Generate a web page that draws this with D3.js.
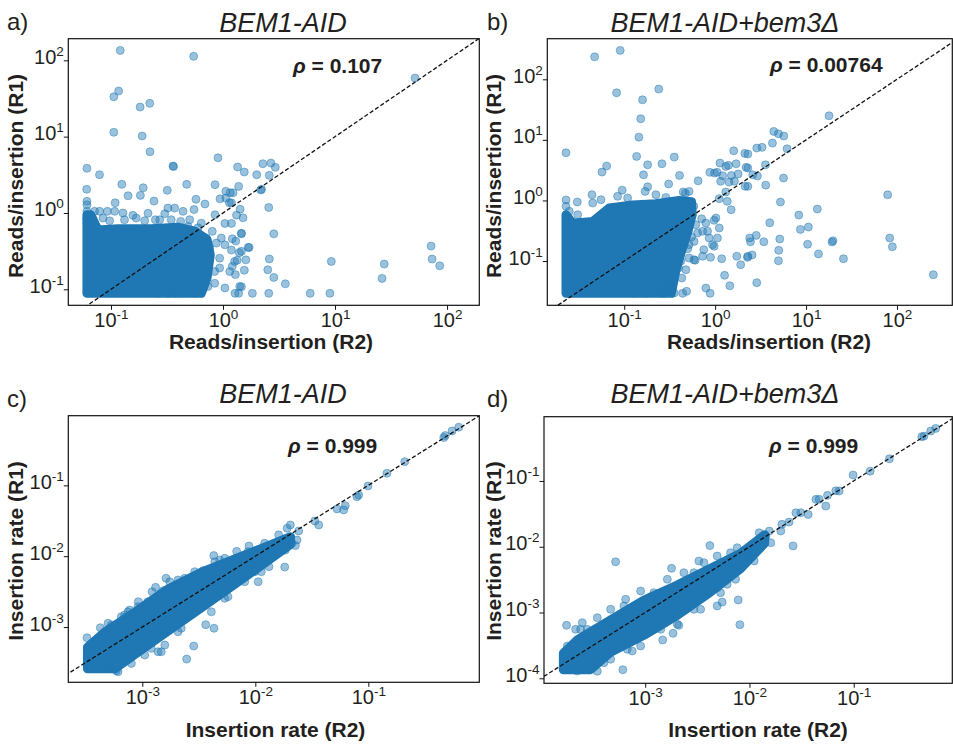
<!DOCTYPE html>
<html>
<head>
<meta charset="utf-8">
<script src="https://cdn.jsdelivr.net/npm/d3@7"></script>
<style>
  body { margin: 0; background: #fff; }
  svg { display: block; }
  text { font-family: "Liberation Sans", Arial, Helvetica, sans-serif; fill: #231f20; }
</style>
</head>
<body>
<svg id="fig" width="953" height="746"></svg>
<script>
// ---------- Reads per insertion, replicate R2 (x) vs R1 (y) ----------
// Individual genes outside the dense cloud
const pointsA = [
  [0.121,135],[0.547,113],[0.117,39.6],[0.106,33.3],[0.182,24.4],[0.222,27.3],[0.106,11.4],[0.190,10.2],
  [0.223,6.34],[0.902,5.28],[0.358,4.12],[0.362,4.05],[0.061,3.85],[0.079,3.17],[1.35,4.0],[1.55,3.44],
  [2.27,4.42],[2.68,4.5],[2.59,3.11],[2.0,3.17],[2.93,3.96],[51.8,58.6],[72,0.368],[73.5,0.249],[86,0.203],
  [9.27,0.232],[27.5,0.214],[26.3,0.139],[3.6,0.118],[6.0,0.0885],[9.0,0.0885],[2.84,0.533],[2.84,0.143],
  [2.56,1.18],[2.59,0.25],[2.51,0.18],[2.56,0.0885],[1.83,0.0885],[1.38,0.0885],[1.28,0.0885],[1.46,0.108],
  [1.55,0.178],[1.68,0.354],[1.6,0.243],[1.4,0.301],[1.34,0.24],[1.29,0.156],[1.21,0.2],[1.51,0.865],
  [1.42,1.12],[1.32,0.937],[1.46,0.535],[1.38,2.23],[2.21,2.04],[2.17,2.0],[0.849,2.35],[1.06,1.92],
  [1.16,1.84],[1.06,1.57],[1.23,1.84],[1.14,1.36],[1.19,1.36],[0.94,1.53],[0.574,1.51],[0.69,1.31],
  [0.551,1.11],[0.474,2.37],[0.318,1.98],[0.242,1.43],[0.194,2.14],[0.142,1.68],[0.125,2.37],[0.109,1.36],
  [0.0607,2.04],[0.183,1.70],[0.849,0.946],[1.04,0.73],[1.19,0.73],[1.46,0.541],[1.21,0.459],[1.30,0.428],
  [1.04,0.383],[1.46,0.314],[1.71,0.354],[1.19,0.327],[0.966,0.469],[1.27,0.232],[0.933,0.19],[1.15,0.171],
  [0.843,0.12],[1.04,0.104],[1.41,0.109],[0.62,0.12],
  [0.061,1.42],[0.061,1.28],[0.061,1.05],[0.061,0.855],[0.061,0.736],
  [0.0792,1.05],[0.0927,1.05],[0.108,1.05],[0.128,1.0],[0.157,0.931],[0.214,0.99],[0.272,0.815],[0.322,1.16],
  [0.37,1.16],[0.44,1.05],[0.504,0.815],[0.64,0.736],[0.802,0.574],[0.871,0.403],[0.933,0.256],[0.843,0.171],
  [0.734,0.109],[0.559,0.0885],[0.323,0.0885],[0.37,0.0885],[0.263,0.0885],
  [0.0714,1.05],[0.0849,0.857],[0.0973,0.791],[0.132,0.815],[0.168,0.857],[0.2,0.791],[0.249,0.815],
  [0.302,0.976],[0.345,0.815],[0.419,0.776],[0.487,0.667],[0.598,0.64],[0.71,0.469],[0.76,0.347]
];
// Outline of the saturated region where thousands of genes overlap
const coreA = [
  [0.061,0.0885],[0.061,0.95],[0.066,0.95],[0.0765,0.60],[0.115,0.62],[0.229,0.62],[0.396,0.65],[0.558,0.58],
  [0.72,0.45],[0.77,0.283],[0.72,0.140],[0.64,0.0885]
];

const pointsB = [
  [0.0473,235],[0.0903,300],[0.0825,59.8],[0.24,68.9],[0.159,45.9],[0.152,22.3],[0.145,11.1],[0.0229,6.12],
  [0.137,5.34],[0.355,5.2],[0.181,3.88],[0.26,4.03],[0.0641,3.7],[0.0569,2.94],[0.163,2.65],[0.406,2.59],
  [0.308,1.87],[0.0229,1.02],[0.0305,0.942],[0.0442,1.24],[0.095,1.48],[0.17,1.41],[0.181,1.68],[0.223,1.24],
  [0.517,1.41],[0.47,1.32],[0.65,2.11],[0.875,2.91],[0.984,2.83],[1.05,2.91],[1.13,4.14],[1.31,3.65],
  [1.40,3.8],[1.6,6.6],[2.12,5.98],[1.70,4.03],[2.19,3.52],[1.79,2.73],[1.51,2.59],[1.21,2.56],[1.42,2.01],
  [1.63,2.07],[1.15,2.07],[2.14,1.71],[1.31,1.38],[1.36,0.966],[1.50,0.703],[1.11,1.07],[1.02,0.513],
  [0.975,0.47],[0.71,0.499],[0.79,0.424],[0.728,0.309],[0.825,0.309],[1.11,0.351],[1.06,0.24],[0.975,0.175],
  [0.859,0.24],[0.935,0.186],[0.751,0.154],[0.583,0.105],[0.728,0.12],[0.889,0.115],[1.18,0.109],[1.27,0.058],
  [1.45,0.0391],[0.79,0.0358],[0.881,0.0293],[1.91,0.0869],[1.73,0.12],[2.4,0.24],[2.27,0.115],[0.485,0.0316],
  [0.439,0.0293],[0.396,0.0766],[0.477,0.0718],[0.345,0.0524],[0.43,0.0524],
  [17.9,25.0],[4.42,13.8],[4.97,12.6],[5.69,11.6],[2.87,7.33],[3.28,7.52],[4.27,8.85],[6.18,7.13],[3.58,3.88],
  [2.29,5.84],[2.29,3.43],[2.59,2.65],[2.92,2.53],[3.6,1.79],[5.65,2.34],[5.23,0.942],[2.29,1.71],[3.99,0.428],
  [8.32,0.574],[13.3,0.721],[8.67,0.333],[10.6,0.364],[79,1.24],[83.2,0.24],[89,0.172],[19.8,0.216],
  [19.3,0.206],[10.4,0.189],[13.7,0.131],[25.8,0.109],[251,0.0594],[5.14,0.231],[5.01,0.15],[4.97,0.101],
  [2.83,0.265],[2.45,0.208],[3.43,0.208],[2.55,0.126],[2.87,0.0439],[2.29,0.12],
  [0.045,0.906],[0.0555,1.03],[0.0846,1.17],[0.109,1.1],[0.287,1.12],[0.445,1.38],[0.583,0.8],[0.614,0.397],
  [0.517,0.186],[0.287,0.0382],[0.253,0.0293],[0.173,0.0293],[0.129,0.0293],[0.0308,0.581],[0.0249,0.661],
  [0.0229,0.8],
  [0.603,0.103],[0.517,0.112],[0.313,0.0382],[0.355,0.0297],[0.275,0.0293],[0.641,0.29],[0.587,0.211],
  [0.5,0.16],[0.42,0.1],[0.55,0.25]
];
const coreB = [
  [0.0229,0.0293],[0.0229,0.581],[0.0271,0.42],[0.045,0.45],[0.0684,0.75],[0.124,0.84],[0.223,0.88],
  [0.402,1.0],[0.55,0.95],[0.56,0.581],[0.5,0.3],[0.43,0.15],[0.37,0.07],[0.33,0.0293]
];

// ---------- Insertion rate, replicate R2 (x) vs R1 (y) ----------
const pointsC = [
  [4.25e-4,9.78e-4],[3.24e-4,7.06e-4],[1.22e-3,3.15e-3],[1.31e-3,3.64e-3],[1.53e-3,3.26e-3],[1.62e-3,4.88e-3],
  [1.75e-3,4.36e-3],[9.22e-4,2.28e-3],[6.98e-4,1.48e-3],[4.29e-3,0.0102],[4.84e-3,8.83e-3],[6.84e-3,0.0117],
  [8.79e-3,0.0139],[2.91e-3,6.04e-3],[3.45e-3,6.24e-3],[3.64e-3,1.08e-3],[4.31e-3,9.6e-4],[2.85e-3,5.4e-4],
  [2.47e-3,3.53e-4],[0.0106,4.36e-3],[0.0132,7.11e-3],[1.38e-3,4.48e-4],[1.47e-3,4.48e-4],[8.0e-4,3.07e-4],
  [5.89e-4,2.42e-4],
  [0.631,0.662],[0.551,0.586],[0.48,0.504],[0.465,0.472],[0.21,0.216],[0.146,0.148],[0.0993,0.0982],
  [0.0822,0.0731],[0.0794,0.0692],[0.0625,0.0516],[0.0528,0.0465],[0.0605,0.045],[0.0364,0.0276],
  [0.0336,0.0314],[0.0204,0.0276],[0.0191,0.0248],[0.0242,0.0227],[0.0234,0.0169],[0.0211,0.0152],
  [0.0184,0.0122],[0.0226,0.0141],[0.0182,7.03e-3],[0.0161,0.02],[0.0159,0.0144],
  [4.97e-4,1.13e-3],[7.47e-4,1.64e-3],[9.16e-4,1.94e-3],[2.07e-3,4.61e-3],[4.38e-3,8.36e-3],[8.61e-3,0.0116],
  [9.88e-3,6.04e-3],[5.36e-3,2.54e-3],[2.21e-3,9.6e-4],[1.2e-3,5.0e-4],[4.97e-4,2.61e-4],
  [5.32e-4,1.07e-3],[6.52e-4,1.4e-3],[7.73e-4,1.74e-3],[1.12e-3,2.28e-3],[2.37e-3,4.88e-3],[5.36e-3,9.33e-3],
  [0.0121,0.0152],[6.1e-4,2.34e-4],[1.05e-3,4.03e-4],[1.58e-3,5.57e-4],[2.07e-3,8.59e-4],[4.08e-3,1.64e-3],
  [5.73e-3,2.68e-3],[8.05e-3,4.36e-3],[0.0113,6.04e-3]
];
const coreC = [
  [3.27e-4,2.57e-4],[3.27e-4,5.2e-4],[4.65e-4,8.5e-4],[8.57e-4,1.62e-3],[1.69e-3,3.45e-3],[3.33e-3,5.94e-3],
  [6.57e-3,9.15e-3],[0.0121,0.0134],[0.0205,0.0188],[0.0205,0.0147],[0.0129,8.57e-3],[6.57e-3,4.0e-3],
  [3.33e-3,1.87e-3],[1.69e-3,8.8e-4],[8.57e-4,4.1e-4],[5.7e-4,2.57e-4]
];

const pointsD = [
  [5.2e-4,5.91e-3],[1.79e-3,4.7e-3],[4.17e-3,0.0104],[7.8e-3,1.55e-3],[5.47e-3,1.44e-3],[4.9e-3,1.26e-3],
  [8.09e-3,6.53e-4],[1.76e-4,6.38e-4],[2.15e-4,5.55e-4],[2.49e-4,7.0e-4],[2.1e-3,6.38e-4],[1.85e-3,4.83e-4],
  [1.47e-3,3.82e-4],[7.5e-4,2.6e-4],[6.1e-4,1.35e-4],[3.47e-4,1.28e-4],[4.9e-3,2.38e-3],[6.34e-3,4.54e-3],
  [3.27e-3,6.07e-3],
  [0.612,0.63],[0.548,0.573],[0.473,0.481],[0.45,0.47],[0.22,0.217],[0.144,0.141],[0.0987,0.123],
  [0.0725,0.0703],[0.0673,0.071],[0.0561,0.0604],[0.0434,0.0525],[0.0466,0.0525],[0.054,0.0415],
  [0.0279,0.0329],[0.0311,0.0329],[0.0366,0.031],[0.024,0.0237],[0.0205,0.0219],[0.02,0.0173],[0.0262,0.0103],
  [0.0155,0.0173],[0.016,0.0115],[0.0144,0.0146],[0.0124,0.0163],[0.0111,6.07e-3],[0.0107,7.2e-3],
  [2.78e-4,5.55e-4],[6.25e-4,1.26e-3],[1.21e-3,2.0e-3],[2.93e-3,4.03e-3],[6.59e-3,8.11e-3],[6.11e-3,2.69e-3],
  [2.93e-3,1.12e-3],[1.41e-3,5.55e-4],[6.72e-4,2.76e-4],[4.02e-4,1.73e-4],
  [1.79e-4,3.1e-4],[2.4e-4,5.55e-4],[3.47e-4,8.34e-4],[4.66e-4,1.12e-3],[6.49e-4,1.59e-3],[9.03e-4,2.12e-3],
  [1.63e-3,3.2e-3],[2.35e-3,4.03e-3],[3.66e-3,5.71e-3],[4.9e-3,7.22e-3],[7.62e-3,9.66e-3],
  [2.23e-4,1.29e-4],[4.66e-4,1.95e-4],[9.03e-4,3.1e-4],[2.03e-3,6.62e-4],[3.4e-3,1.12e-3],[5.28e-3,2.0e-3],
  [7.36e-3,3.2e-3]
];
const coreD = [
  [1.64e-4,1.35e-4],[1.64e-4,2.4e-4],[2.23e-4,3.83e-4],[4.66e-4,7.7e-4],[9.72e-4,1.55e-3],[2.03e-3,2.62e-3],
  [4.24e-3,4.71e-3],[8.22e-3,7.93e-3],[0.014,0.0152],[0.014,0.0113],[8.22e-3,4.63e-3],[4.24e-3,2.05e-3],
  [2.03e-3,9.07e-4],[9.72e-4,4.5e-4],[4.66e-4,2.5e-4],[2.99e-4,1.35e-4]
];

// Axis extents and tick values
const xDomainA = [0.0416, 194], yDomainA = [0.0617, 192];
const xDomainB = [0.01426, 406], yDomainB = [0.01858, 468];
const xDomainC = [2.213e-4, 0.9594], yDomainC = [1.66e-4, 0.9616];
const xDomainD = [1.069e-4, 0.883], yDomainD = [8.39e-5, 0.9484];
const readTicks = [0.1, 1, 10, 100];
const rateTicks = [1e-3, 1e-2, 1e-1];
const rateTicksD = [1e-4, 1e-3, 1e-2, 1e-1];

// Labels
const panelLetters = ["a)", "b)", "c)", "d)"];
const strainTitles = ["BEM1-AID", "BEM1-AID+bem3\u0394", "BEM1-AID", "BEM1-AID+bem3\u0394"];
const rhoValues = ["0.107", "0.00764", "0.999", "0.999"];
const xLabels = ["Reads/insertion (R2)", "Reads/insertion (R2)", "Insertion rate (R2)", "Insertion rate (R2)"];
const yLabels = ["Reads/insertion (R1)", "Reads/insertion (R1)", "Insertion rate (R1)", "Insertion rate (R1)"];

// Panel layout
const panels = [
  { pts: pointsA, core: coreA, xd: xDomainA, yd: yDomainA, xt: readTicks, yt: readTicks,
    box: { l: 68.3, r: 479.3, t: 38.7, b: 305.3 }, letter: [7, 30], title: [283, 31.5],
    rho: [293, 73], xl: [271, 349.3], yl: [23, 176] },
  { pts: pointsB, core: coreB, xd: xDomainB, yd: yDomainB, xt: readTicks, yt: readTicks,
    box: { l: 547.3, r: 952.3, t: 38.7, b: 305.3 }, letter: [487, 30], title: [725, 31.5],
    rho: [770, 72], xl: [769, 349.3], yl: [501, 176] },
  { pts: pointsC, core: coreC, xd: xDomainC, yd: yDomainC, xt: rateTicks, yt: rateTicks,
    box: { l: 68.3, r: 479.3, t: 415.7, b: 682.3 }, letter: [7, 407], title: [283, 403.3],
    rho: [288, 453.3], xl: [275.5, 736.7], yl: [23, 551] },
  { pts: pointsD, core: coreD, xd: xDomainD, yd: yDomainD, xt: rateTicks, yt: rateTicksD,
    box: { l: 544, r: 952.3, t: 416.7, b: 683.3 }, letter: [487, 407], title: [725, 403.3],
    rho: [769, 453.3], xl: [758, 736.7], yl: [501, 551] }
];

const BLUE = "#1f77b4";
const svg = d3.select("#fig");

function supLabel(sel, anchor) {
  sel.each(function (d) {
    const t = d3.select(this);
    const e = Math.round(Math.log10(d));
    t.text("10").attr("text-anchor", anchor);
    t.append("tspan").attr("dy", -8).attr("font-size", 13.5).text(String(e));
  });
}

panels.forEach((p, i) => {
  const { l, r, t, b } = p.box;
  const x = d3.scaleLog().domain(p.xd).range([l, r]);
  const y = d3.scaleLog().domain(p.yd).range([b, t]);
  const g = svg.append("g");

  const clipId = "clip" + i;
  svg.append("clipPath").attr("id", clipId)
    .append("rect").attr("x", l).attr("y", t).attr("width", r - l).attr("height", b - t);

  const plot = g.append("g").attr("clip-path", `url(#${clipId})`);

  // saturated cloud
  plot.append("path")
    .datum(p.core)
    .attr("d", d3.line().x(d => x(d[0])).y(d => y(d[1])).curve(d3.curveLinearClosed))
    .attr("fill", BLUE).attr("stroke", BLUE).attr("stroke-width", 9)
    .attr("stroke-linejoin", "round");

  // individual genes
  plot.selectAll("circle").data(p.pts).join("circle")
    .attr("cx", d => x(d[0])).attr("cy", d => y(d[1])).attr("r", 4)
    .attr("fill", BLUE).attr("fill-opacity", 0.45)
    .attr("stroke", BLUE).attr("stroke-opacity", 0.45).attr("stroke-width", 1);

  // y = x reference line
  const lo = Math.min(p.xd[0], p.yd[0]), hi = Math.max(p.xd[1], p.yd[1]);
  plot.append("line")
    .attr("x1", x(lo)).attr("y1", y(lo)).attr("x2", x(hi)).attr("y2", y(hi))
    .attr("stroke", "#111").attr("stroke-width", 1.3).attr("stroke-dasharray", "4.2,2.2");

  // axes
  const ax = g.append("g").attr("transform", `translate(0,${b})`)
    .call(d3.axisBottom(x).tickValues(p.xt).tickSize(4.5).tickSizeOuter(0));
  ax.select(".domain").remove();
  ax.selectAll(".tick text").attr("y", 22).attr("dy", 0).attr("font-size", 20)
    .attr("font-family", null).call(supLabel, "middle");

  const ay = g.append("g").attr("transform", `translate(${l},0)`)
    .call(d3.axisLeft(y).tickValues(p.yt).tickSize(4.5).tickSizeOuter(0));
  ay.select(".domain").remove();
  ay.selectAll(".tick text").attr("x", -4.5).attr("dy", 3).attr("font-size", 20)
    .attr("font-family", null).call(supLabel, "end");
  g.selectAll(".tick line").attr("stroke", "#111").attr("stroke-width", 1);

  // frame
  g.append("rect").attr("x", l).attr("y", t).attr("width", r - l).attr("height", b - t)
    .attr("fill", "none").attr("stroke", "#111").attr("stroke-width", 1.2);

  // correlation annotation
  const rt = g.append("text").attr("x", p.rho[0]).attr("y", p.rho[1])
    .attr("font-size", 21).attr("font-weight", "bold");
  rt.append("tspan").attr("font-style", "italic").text("\u03c1");
  rt.append("tspan").text(" = " + rhoValues[i]);

  // titles and labels
  g.append("text").attr("x", p.letter[0]).attr("y", p.letter[1])
    .attr("font-size", 24).text(panelLetters[i]);
  g.append("text").attr("x", p.title[0]).attr("y", p.title[1])
    .attr("text-anchor", "middle").attr("font-size", 27).attr("font-style", "italic")
    .text(strainTitles[i]);
  g.append("text").attr("x", p.xl[0]).attr("y", p.xl[1])
    .attr("text-anchor", "middle").attr("font-size", 21).attr("font-weight", "bold")
    .text(xLabels[i]);
  g.append("text").attr("transform", `translate(${p.yl[0]},${p.yl[1]}) rotate(-90)`)
    .attr("text-anchor", "middle").attr("font-size", 21).attr("font-weight", "bold")
    .text(yLabels[i]);
});
</script>
</body>
</html>
